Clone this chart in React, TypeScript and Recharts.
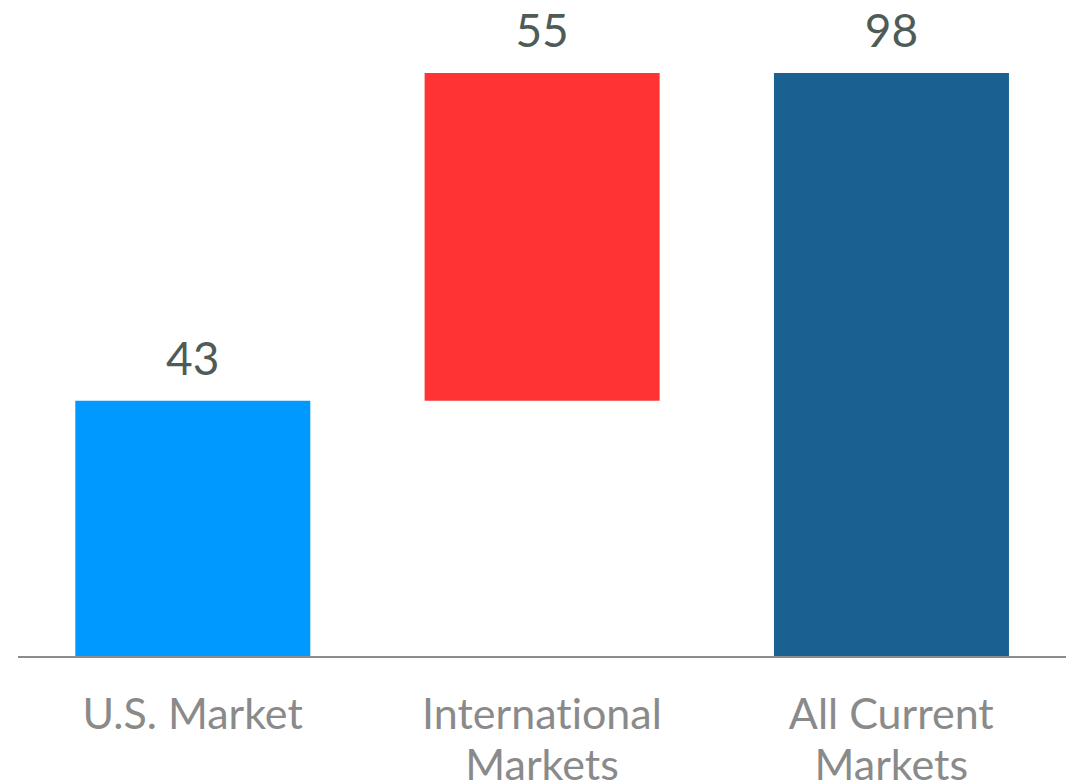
import React from 'react';
import { BarChart, Bar, XAxis, YAxis, Cell, LabelList } from 'recharts';

// waterfall: invisible base + visible step
const categories = ['U.S. Market', 'International\nMarkets', 'All Current\nMarkets'];
const baseValues = [0, 43, 0];
const stepValues = [43, 55, 98];
const barColors = ['#0099ff', '#ff3333', '#1a6191'];

const data = categories.map((name, i) => ({
    name,
    base: baseValues[i],
    value: stepValues[i],
}));

const FONT = 'Lato, "Noto Sans", sans-serif';

const CategoryTick = (props: any) => {
    const { x, y, payload } = props;
    const lines: string[] = String(payload.value).split('\n');
    return (
        <text
            x={x}
            y={y}
            textAnchor="middle"
            fill="#8a8a8a"
            fontSize={43}
            fontFamily={FONT}
            style={{ fontVariantLigatures: 'none' }}
        >
            {lines.map((line, i) => (
                <tspan key={i} x={x} dy={i === 0 ? 64 : 51}>{line}</tspan>
            ))}
        </text>
    );
};

const App: React.FC = () => {
    return (
        <div style={{ position: 'absolute', left: 0, top: 0, width: 1071, height: 784, background: '#fff' }}>
            <BarChart
                width={1071}
                height={784}
                data={data}
                margin={{ top: 73, right: 5, left: 18, bottom: 0 }}
                barCategoryGap="16.4%"
            >
                <XAxis
                    dataKey="name"
                    axisLine={{ stroke: '#8c8c8c', strokeWidth: 2 }}
                    tickLine={false}
                    height={127}
                    tick={<CategoryTick />}
                    interval={0}
                />
                <YAxis hide domain={[0, 98]} />
                <Bar dataKey="base" stackId="w" fill="transparent" isAnimationActive={false} />
                <Bar dataKey="value" stackId="w" isAnimationActive={false}>
                    {data.map((_, i) => (
                        <Cell key={i} fill={barColors[i]} />
                    ))}
                    <LabelList
                        dataKey="value"
                        position="top"
                        offset={26}
                        fill="#4f5b57"
                        fontSize={46}
                        fontFamily={FONT}
                    />
                </Bar>
            </BarChart>
        </div>
    );
};

export default App;
